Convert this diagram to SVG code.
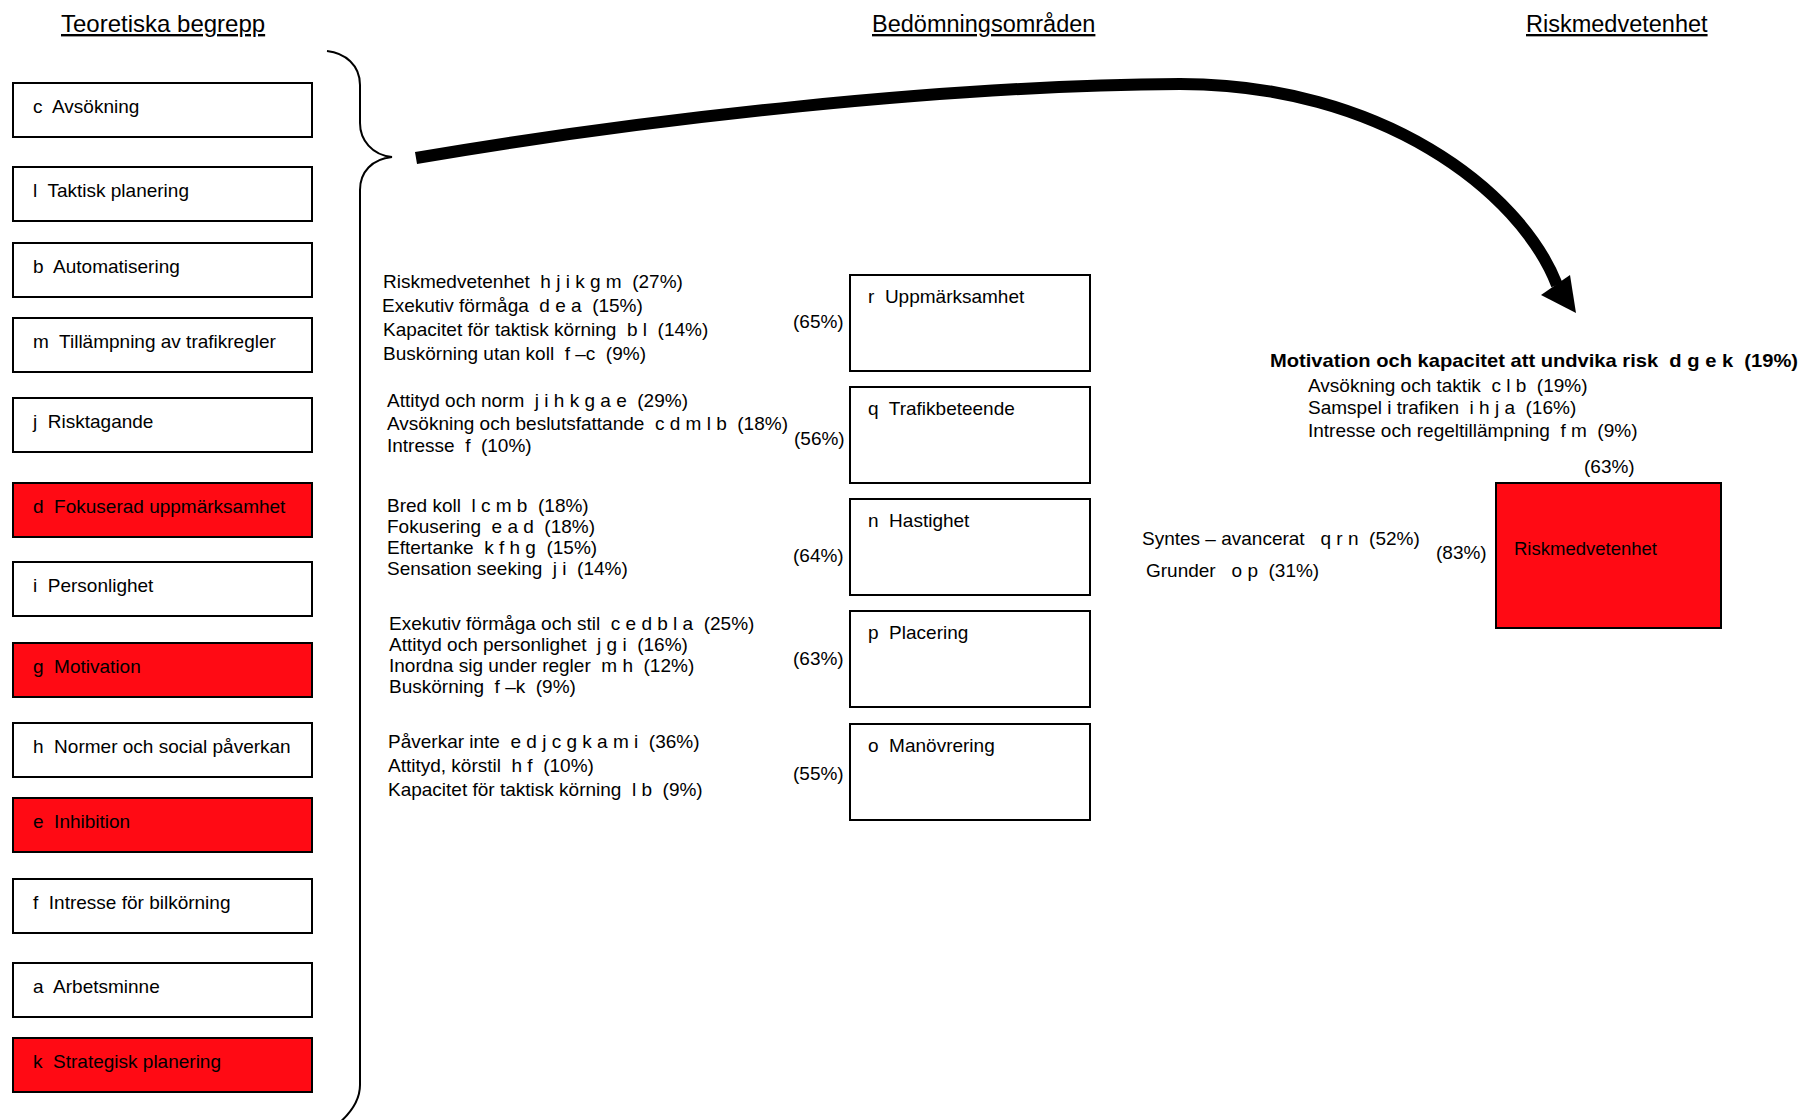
<svg xmlns="http://www.w3.org/2000/svg" width="1803" height="1120" viewBox="0 0 1803 1120" xml:space="preserve">
<style>
text{font-family:"Liberation Sans",Arial,sans-serif;font-size:19px;fill:#000;white-space:pre}
.hd{font-size:23.5px;text-decoration:underline}
.box{fill:#fff;stroke:#000;stroke-width:2}
.red{fill:#FF0A14;stroke:#000;stroke-width:2}
.b{font-weight:bold}
</style>
<rect width="1803" height="1120" fill="#fff"/>
<text class="hd" x="61" y="32" style="font-size:24px">Teoretiska begrepp</text>
<text class="hd" x="872" y="32">Bedömningsområden</text>
<text class="hd" x="1526" y="32">Riskmedvetenhet</text>

<g id="c"><rect class="box" x="13" y="83" width="299" height="54"/><text x="33" y="113">c  Avsökning</text></g>
<g id="l"><rect class="box" x="13" y="167" width="299" height="54"/><text x="33" y="197">l  Taktisk planering</text></g>
<g id="b"><rect class="box" x="13" y="243" width="299" height="54"/><text x="33" y="273">b  Automatisering</text></g>
<g id="m"><rect class="box" x="13" y="318" width="299" height="54"/><text x="33" y="348">m  Tillämpning av trafikregler</text></g>
<g id="j"><rect class="box" x="13" y="398" width="299" height="54"/><text x="33" y="428">j  Risktagande</text></g>
<g id="d"><rect class="red" x="13" y="483" width="299" height="54"/><text x="33" y="513">d  Fokuserad uppmärksamhet</text></g>
<g id="i"><rect class="box" x="13" y="562" width="299" height="54"/><text x="33" y="592">i  Personlighet</text></g>
<g id="g"><rect class="red" x="13" y="643" width="299" height="54"/><text x="33" y="673">g  Motivation</text></g>
<g id="h"><rect class="box" x="13" y="723" width="299" height="54"/><text x="33" y="753">h  Normer och social påverkan</text></g>
<g id="e"><rect class="red" x="13" y="798" width="299" height="54"/><text x="33" y="828">e  Inhibition</text></g>
<g id="f"><rect class="box" x="13" y="879" width="299" height="54"/><text x="33" y="909">f  Intresse för bilkörning</text></g>
<g id="a"><rect class="box" x="13" y="963" width="299" height="54"/><text x="33" y="993">a  Arbetsminne</text></g>
<g id="k"><rect class="red" x="13" y="1038" width="299" height="54"/><text x="33" y="1068">k  Strategisk planering</text></g>

<g id="r"><rect class="box" x="850" y="275" width="240" height="96"/><text x="868" y="303">r  Uppmärksamhet</text></g>
<g id="q"><rect class="box" x="850" y="387" width="240" height="96"/><text x="868" y="415">q  Trafikbeteende</text></g>
<g id="n"><rect class="box" x="850" y="499" width="240" height="96"/><text x="868" y="527">n  Hastighet</text></g>
<g id="p"><rect class="box" x="850" y="611" width="240" height="96"/><text x="868" y="639">p  Placering</text></g>
<g id="o"><rect class="box" x="850" y="724" width="240" height="96"/><text x="868" y="752">o  Manövrering</text></g>

<g id="risk"><rect class="red" x="1496" y="483" width="225" height="145"/><text x="1514" y="555" fill="#200" style="font-size:18.5px">Riskmedvetenhet</text></g>

<g id="labels">
<text x="383" y="288">Riskmedvetenhet  h j i k g m  (27%)</text>
<text x="382" y="312">Exekutiv förmåga  d e a  (15%)</text>
<text x="383" y="336">Kapacitet för taktisk körning  b l  (14%)</text>
<text x="383" y="360">Buskörning utan koll  f –c  (9%)</text>
<text x="793" y="328">(65%)</text>

<text x="387" y="407">Attityd och norm  j i h k g a e  (29%)</text>
<text x="387" y="430">Avsökning och beslutsfattande  c d m l b  (18%)</text>
<text x="387" y="452">Intresse  f  (10%)</text>
<text x="794" y="445">(56%)</text>

<text x="387" y="512">Bred koll  l c m b  (18%)</text>
<text x="387" y="533">Fokusering  e a d  (18%)</text>
<text x="387" y="554">Eftertanke  k f h g  (15%)</text>
<text x="387" y="575">Sensation seeking  j i  (14%)</text>
<text x="793" y="562">(64%)</text>

<text x="389" y="630">Exekutiv förmåga och stil  c e d b l a  (25%)</text>
<text x="389" y="651">Attityd och personlighet  j g i  (16%)</text>
<text x="389" y="672">Inordna sig under regler  m h  (12%)</text>
<text x="389" y="693">Buskörning  f –k  (9%)</text>
<text x="793" y="665">(63%)</text>

<text x="388" y="748">Påverkar inte  e d j c g k a m i  (36%)</text>
<text x="388" y="772">Attityd, körstil  h f  (10%)</text>
<text x="388" y="796">Kapacitet för taktisk körning  l b  (9%)</text>
<text x="793" y="780">(55%)</text>

<text class="b" x="1270" y="367" textLength="528" lengthAdjust="spacingAndGlyphs">Motivation och kapacitet att undvika risk  d g e k  (19%)</text>
<text x="1308" y="392">Avsökning och taktik  c l b  (19%)</text>
<text x="1308" y="414">Samspel i trafiken  i h j a  (16%)</text>
<text x="1308" y="437">Intresse och regeltillämpning  f m  (9%)</text>
<text x="1584" y="473">(63%)</text>
<text x="1142" y="545">Syntes – avancerat   q r n  (52%)</text>
<text x="1146" y="577">Grunder   o p  (31%)</text>
<text x="1436" y="559">(83%)</text>
</g>

<g id="connectors">
<path d="M327,51 C345,53 360,65 360,85 L360,123 C360,140 372,155 392,157 C372,159 360,172 360,190 L360,1085 C360,1100 352,1112 338,1124" fill="none" stroke="#000" stroke-width="2"/>
<path d="M416,158 C650,118 950,85 1180,84 C1380,84 1520,190 1557,285" fill="none" stroke="#000" stroke-width="12"/>
<polygon points="1541,295 1576,313 1570,275" fill="#000"/>
</g>
</svg>
